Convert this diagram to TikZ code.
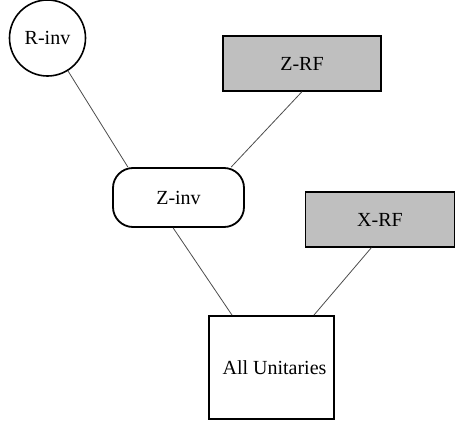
\documentclass[tikz,border=0pt]{standalone}
\usepackage{fontspec}
\setmainfont{Liberation Serif}
\usetikzlibrary{calc,shapes}

\begin{document}
\begin{tikzpicture}[x=1pt,y=-1pt,
    every node/.style={font=\fontsize{20}{24}\selectfont,inner sep=0pt},
    graybox/.style={rectangle,draw,fill=black!25,line width=1.3pt,minimum width=#1,minimum height=55pt},
    link/.style={draw=black!70,line width=0.8pt}]
    \useasboundingbox (0,0) rectangle (456,426);

    \node [circle,draw,line width=1.6pt,minimum size=76pt] (1) at (47.5,38) {R-inv};
    \node [graybox=158pt] (2) at (302,63.5) {Z-RF};
    \node [rectangle,draw,line width=1.8pt,rounded corners=20pt,minimum width=131pt,minimum height=59pt] (3) at (178.5,197.5) {Z-inv};
    \node [graybox=149pt] (4) at (380,219.5) {X-RF};
    \node [rectangle,draw,line width=1.8pt,minimum width=125pt,minimum height=103pt] (5) at (271.5,367.5) {\hspace{6pt}All Unitaries};

    % connectors
    \draw [link] (1) -- (3.149);
    \draw [link] (2.south) -- (3.30);
    \draw [link] (3.-100) -- (5.127.5);
    \draw [link] (4.-107) -- (5.51);
\end{tikzpicture}
\end{document}
